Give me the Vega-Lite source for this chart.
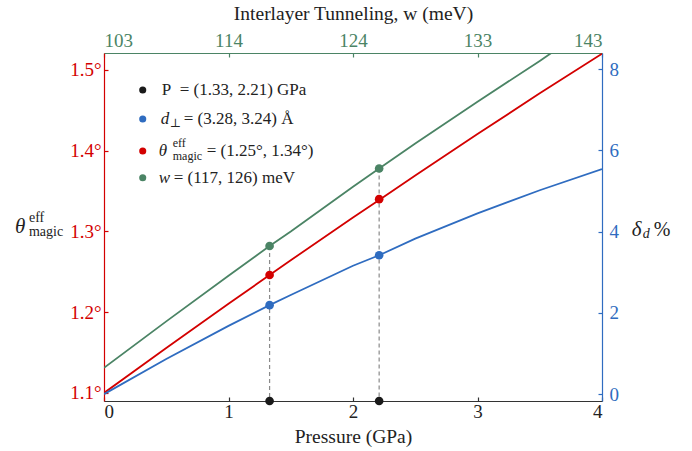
{
  "$schema": "https://vega.github.io/schema/vega-lite/v6.json",
  "width": 498,
  "height": 348,
  "autosize": "none",
  "padding": {"left": 104, "top": 53, "right": 90, "bottom": 50},
  "background": "white",
  "config": {
    "font": "Liberation Serif, DejaVu Serif, serif",
    "text": {"font": "Liberation Serif, DejaVu Serif, serif"},
    "view": {"stroke": null},
    "axis": {
      "labelFont": "Liberation Serif, DejaVu Serif, serif",
      "titleFont": "Liberation Serif, DejaVu Serif, serif",
      "grid": false,
      "labelFontSize": 19,
      "titleFontSize": 19.5,
      "titleFontWeight": "normal",
      "titleColor": "#222222",
      "tickSize": -4,
      "domainWidth": 1.2,
      "tickWidth": 1.2
    }
  },
  "datasets": {
    "curves": [
      {"p": 0, "series": "theta", "v": 1.1},
      {"p": 0.5, "series": "theta", "v": 1.1556},
      {"p": 1, "series": "theta", "v": 1.2104},
      {"p": 1.33, "series": "theta", "v": 1.246},
      {"p": 1.5, "series": "theta", "v": 1.2643},
      {"p": 2, "series": "theta", "v": 1.3173},
      {"p": 2.21, "series": "theta", "v": 1.339},
      {"p": 2.5, "series": "theta", "v": 1.3694},
      {"p": 3, "series": "theta", "v": 1.4206},
      {"p": 3.5, "series": "theta", "v": 1.471},
      {"p": 4, "series": "theta", "v": 1.52},
      {"p": 0, "series": "w", "v": 1.131},
      {"p": 0.5, "series": "w", "v": 1.1886},
      {"p": 1, "series": "w", "v": 1.245},
      {"p": 1.33, "series": "w", "v": 1.282},
      {"p": 1.5, "series": "w", "v": 1.2998},
      {"p": 2, "series": "w", "v": 1.3554},
      {"p": 2.21, "series": "w", "v": 1.378},
      {"p": 2.5, "series": "w", "v": 1.409},
      {"p": 3, "series": "w", "v": 1.4606},
      {"p": 3.5, "series": "w", "v": 1.5112},
      {"p": 4, "series": "w", "v": 1.564},
      {"p": 0, "series": "d", "v": 0},
      {"p": 0.5, "series": "d", "v": 0.864},
      {"p": 1, "series": "d", "v": 1.679},
      {"p": 1.33, "series": "d", "v": 2.19},
      {"p": 1.5, "series": "d", "v": 2.44},
      {"p": 2, "series": "d", "v": 3.16},
      {"p": 2.21, "series": "d", "v": 3.42},
      {"p": 2.5, "series": "d", "v": 3.83},
      {"p": 3, "series": "d", "v": 4.45},
      {"p": 3.5, "series": "d", "v": 5.02},
      {"p": 4, "series": "d", "v": 5.54}
    ],
    "pts": [
      {"p": 1.33, "theta": 1.246, "w": 1.282, "d": 2.19},
      {"p": 2.21, "theta": 1.34, "w": 1.378, "d": 3.42}
    ]
  },
  "layer": [
    {
      "layer": [
        {
          "data": {"name": "curves"},
          "transform": [{"filter": "datum.series != 'd'"}],
          "mark": {"type": "line", "strokeWidth": 1.8, "clip": true},
          "encoding": {
            "x": {
              "field": "p", "type": "quantitative",
              "scale": {"domain": [0, 4], "nice": false},
              "axis": {
                "orient": "bottom", "values": [0, 1, 2, 3, 4], "format": "d",
                "title": "Pressure (GPa)", "domainColor": "#333333", "tickColor": "#333333",
                "labelColor": "#222222", "labelPadding": 5, "titlePadding": 6
              }
            },
            "y": {
              "field": "v", "type": "quantitative",
              "scale": {"domain": [1.09, 1.521], "nice": false, "zero": false},
              "axis": {
                "orient": "left", "values": [1.1, 1.2, 1.3, 1.4, 1.5],
                "labelExpr": "format(datum.value, '.1f') + '°'",
                "title": null, "domainColor": "#d30000", "tickColor": "#d30000",
                "labelColor": "#d30000", "labelPadding": 7
              }
            },
            "color": {"field": "series", "type": "nominal", "scale": {"domain": ["theta", "w"], "range": ["#d30000", "#4b8465"]}, "legend": null}
          }
        },
        {
          "data": {"name": "pts"},
          "mark": {"type": "rule", "color": "#8a8a8a", "strokeDash": [4, 3], "strokeWidth": 1.2},
          "encoding": {
            "x": {"field": "p", "type": "quantitative"},
            "y": {"field": "w", "type": "quantitative"},
            "y2": {"datum": 1.09}
          }
        },
        {
          "data": {"name": "pts"},
          "mark": {"type": "point", "filled": true, "opacity": 1, "size": 75, "color": "#d30000"},
          "encoding": {
            "x": {"field": "p", "type": "quantitative"},
            "y": {"field": "theta", "type": "quantitative"}
          }
        },
        {
          "data": {"name": "pts"},
          "mark": {"type": "point", "filled": true, "opacity": 1, "size": 75, "color": "#4b8465"},
          "encoding": {
            "x": {"field": "p", "type": "quantitative"},
            "y": {"field": "w", "type": "quantitative"}
          }
        },
        {
          "data": {"name": "pts"},
          "mark": {"type": "point", "filled": true, "opacity": 1, "size": 75, "color": "#1a1a1a", "clip": false},
          "encoding": {
            "x": {"field": "p", "type": "quantitative"},
            "y": {"datum": 1.09, "type": "quantitative"}
          }
        },
        {
          "data": {"values": [{}]},
          "mark": {"type": "point", "filled": true, "opacity": 1, "size": 50, "color": "#1a1a1a"},
          "encoding": {"x": {"datum": 0.311, "type": "quantitative"}, "y": {"datum": 1.4752, "type": "quantitative"}}
        },
        {
          "data": {"values": [{}]},
          "mark": {"type": "point", "filled": true, "opacity": 1, "size": 50, "color": "#2f6cc0"},
          "encoding": {"x": {"datum": 0.311, "type": "quantitative"}, "y": {"datum": 1.4393, "type": "quantitative"}}
        },
        {
          "data": {"values": [{}]},
          "mark": {"type": "point", "filled": true, "opacity": 1, "size": 50, "color": "#d30000"},
          "encoding": {"x": {"datum": 0.311, "type": "quantitative"}, "y": {"datum": 1.3996, "type": "quantitative"}}
        },
        {
          "data": {"values": [{}]},
          "mark": {"type": "point", "filled": true, "opacity": 1, "size": 50, "color": "#4b8465"},
          "encoding": {"x": {"datum": 0.311, "type": "quantitative"}, "y": {"datum": 1.3666, "type": "quantitative"}}
        },
        {
          "data": {"values": [{}]},
          "mark": {"type": "text", "align": "left", "baseline": "middle", "fontSize": 17, "color": "#222222", "dx": 19},
          "encoding": {"x": {"datum": 0.311, "type": "quantitative"}, "y": {"datum": 1.4752, "type": "quantitative"}, "text": {"value": "P\u00a0 = (1.33, 2.21) GPa"}}
        },
        {
          "data": {"values": [{}]},
          "mark": {"type": "text", "align": "left", "baseline": "middle", "fontSize": 17, "fontStyle": "italic", "color": "#222222", "dx": 18},
          "encoding": {"x": {"datum": 0.311, "type": "quantitative"}, "y": {"datum": 1.4393, "type": "quantitative"}, "text": {"value": "d"}}
        },
        {
          "data": {"values": [{}]},
          "mark": {"type": "text", "align": "left", "baseline": "middle", "fontSize": 12, "color": "#222222", "dx": 27, "dy": 4},
          "encoding": {"x": {"datum": 0.311, "type": "quantitative"}, "y": {"datum": 1.4393, "type": "quantitative"}, "text": {"value": "⊥"}}
        },
        {
          "data": {"values": [{}]},
          "mark": {"type": "text", "align": "left", "baseline": "middle", "fontSize": 17, "color": "#222222", "dx": 41},
          "encoding": {"x": {"datum": 0.311, "type": "quantitative"}, "y": {"datum": 1.4393, "type": "quantitative"}, "text": {"value": "= (3.28, 3.24) Å"}}
        },
        {
          "data": {"values": [{}]},
          "mark": {"type": "text", "align": "left", "baseline": "middle", "fontSize": 17, "fontStyle": "italic", "color": "#222222", "dx": 16},
          "encoding": {"x": {"datum": 0.311, "type": "quantitative"}, "y": {"datum": 1.3996, "type": "quantitative"}, "text": {"value": "θ"}}
        },
        {
          "data": {"values": [{}]},
          "mark": {"type": "text", "align": "left", "baseline": "middle", "fontSize": 12, "color": "#222222", "dx": 30, "dy": -8},
          "encoding": {"x": {"datum": 0.311, "type": "quantitative"}, "y": {"datum": 1.3996, "type": "quantitative"}, "text": {"value": "eff"}}
        },
        {
          "data": {"values": [{}]},
          "mark": {"type": "text", "align": "left", "baseline": "middle", "fontSize": 12, "color": "#222222", "dx": 30, "dy": 5},
          "encoding": {"x": {"datum": 0.311, "type": "quantitative"}, "y": {"datum": 1.3996, "type": "quantitative"}, "text": {"value": "magic"}}
        },
        {
          "data": {"values": [{}]},
          "mark": {"type": "text", "align": "left", "baseline": "middle", "fontSize": 17, "color": "#222222", "dx": 64},
          "encoding": {"x": {"datum": 0.311, "type": "quantitative"}, "y": {"datum": 1.3996, "type": "quantitative"}, "text": {"value": "= (1.25°, 1.34°)"}}
        },
        {
          "data": {"values": [{}]},
          "mark": {"type": "text", "align": "left", "baseline": "middle", "fontSize": 17, "fontStyle": "italic", "color": "#222222", "dx": 16},
          "encoding": {"x": {"datum": 0.311, "type": "quantitative"}, "y": {"datum": 1.3666, "type": "quantitative"}, "text": {"value": "w"}}
        },
        {
          "data": {"values": [{}]},
          "mark": {"type": "text", "align": "left", "baseline": "middle", "fontSize": 17, "color": "#222222", "dx": 31},
          "encoding": {"x": {"datum": 0.311, "type": "quantitative"}, "y": {"datum": 1.3666, "type": "quantitative"}, "text": {"value": "= (117, 126) meV"}}
        },
        {
          "data": {"values": [{}]},
          "mark": {"type": "text", "align": "left", "baseline": "middle", "fontSize": 21, "fontStyle": "italic", "color": "#222222", "clip": false},
          "encoding": {"x": {"datum": -0.715, "type": "quantitative"}, "y": {"datum": 1.3049, "type": "quantitative"}, "text": {"value": "θ"}}
        },
        {
          "data": {"values": [{}]},
          "mark": {"type": "text", "align": "left", "baseline": "middle", "fontSize": 14, "color": "#222222", "clip": false, "dx": 14, "dy": -9},
          "encoding": {"x": {"datum": -0.715, "type": "quantitative"}, "y": {"datum": 1.3049, "type": "quantitative"}, "text": {"value": "eff"}}
        },
        {
          "data": {"values": [{}]},
          "mark": {"type": "text", "align": "left", "baseline": "middle", "fontSize": 14, "color": "#222222", "clip": false, "dx": 14, "dy": 5},
          "encoding": {"x": {"datum": -0.715, "type": "quantitative"}, "y": {"datum": 1.3049, "type": "quantitative"}, "text": {"value": "magic"}}
        },
        {
          "data": {"values": [{}]},
          "mark": {"type": "text", "align": "left", "baseline": "middle", "fontSize": 21, "fontStyle": "italic", "color": "#222222", "clip": false},
          "encoding": {"x": {"datum": 4.2386, "type": "quantitative"}, "y": {"datum": 1.3018, "type": "quantitative"}, "text": {"value": "δ"}}
        },
        {
          "data": {"values": [{}]},
          "mark": {"type": "text", "align": "left", "baseline": "middle", "fontSize": 14, "fontStyle": "italic", "color": "#222222", "clip": false, "dx": 11, "dy": 4},
          "encoding": {"x": {"datum": 4.2386, "type": "quantitative"}, "y": {"datum": 1.3018, "type": "quantitative"}, "text": {"value": "d"}}
        },
        {
          "data": {"values": [{}]},
          "mark": {"type": "text", "align": "left", "baseline": "middle", "fontSize": 20, "color": "#222222", "clip": false, "dx": 22},
          "encoding": {"x": {"datum": 4.2386, "type": "quantitative"}, "y": {"datum": 1.3018, "type": "quantitative"}, "text": {"value": "%"}}
        }
      ]
    },
    {
      "layer": [
        {
          "data": {"name": "curves"},
          "transform": [{"filter": "datum.series == 'd'"}],
          "mark": {"type": "line", "strokeWidth": 1.8, "color": "#2f6cc0", "clip": true},
          "encoding": {
            "x": {
              "field": "p", "type": "quantitative",
              "scale": {"domain": [0, 4], "nice": false},
              "axis": {
                "orient": "top", "values": [0, 1, 2, 3, 4],
                "labelExpr": "['103','114','124','133','143'][datum.value]",
                "title": "Interlayer Tunneling, w (meV)",
                "domainColor": "#4b8465", "tickColor": "#4b8465", "labelColor": "#4b8465",
                "labelPadding": 7, "titlePadding": 8
              }
            },
            "y": {
              "field": "v", "type": "quantitative",
              "scale": {"domain": [-0.17, 8.4], "nice": false, "zero": false},
              "axis": {
                "orient": "right", "values": [0, 2, 4, 6, 8], "format": "d", "title": null,
                "domainColor": "#2f6cc0", "tickColor": "#2f6cc0", "labelColor": "#2f6cc0",
                "labelPadding": 11
              }
            }
          }
        },
        {
          "data": {"name": "pts"},
          "mark": {"type": "point", "filled": true, "opacity": 1, "size": 75, "color": "#2f6cc0"},
          "encoding": {
            "x": {"field": "p", "type": "quantitative"},
            "y": {"field": "d", "type": "quantitative"}
          }
        }
      ]
    }
  ],
  "resolve": {
    "scale": {"x": "independent", "y": "independent"},
    "axis": {"x": "independent", "y": "independent"}
  }
}
